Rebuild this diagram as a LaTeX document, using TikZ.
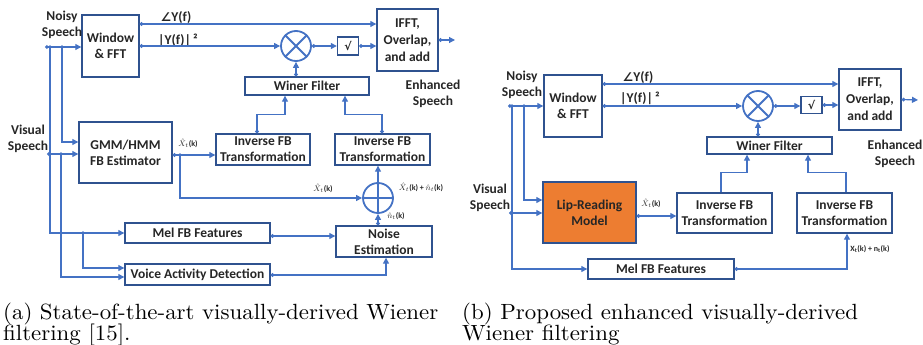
\documentclass[tikz,border=0pt]{standalone}
\usepackage{fontspec}
\usepackage{graphicx}
\setsansfont{Carlito}
\newfontfamily\djv{DejaVu Sans}
\usetikzlibrary{arrows.meta,calc}
\definecolor{lnc}{HTML}{4472C4}
\definecolor{bdc}{HTML}{2F528F}
\definecolor{txc}{HTML}{262626}
\definecolor{orng}{HTML}{ED7D31}
\newcommand{\angsym}{{\djv\bfseries\fontsize{12}{14}\selectfont ∠}}
\newcommand{\capscale}[1]{\scalebox{2.29}[2.2]{#1}}
\begin{document}
\begin{tikzpicture}[x=1pt,y=-1pt,
  box/.style={draw=bdc, line width=1.4pt, fill=white, inner sep=0pt, align=center, text=txc,
    font=\sffamily\bfseries\fontsize{13.5}{16}\selectfont},
  lbl/.style={text=txc, align=center, inner sep=0pt, font=\sffamily\bfseries\fontsize{13.5}{16}\selectfont},
  sml/.style={text=txc, inner sep=0pt, font=\sffamily\bfseries\fontsize{8}{9}\selectfont},
  captxt/.style={text=black, inner sep=0pt, anchor=base west, font=\rmfamily\fontsize{10}{12}\selectfont},
  ring/.style={circle, draw=lnc, line width=1.8pt, fill=white, minimum size=30pt, inner sep=0pt},
  arr/.style={draw=lnc, line width=1.2pt, -{Triangle[length=6pt,width=6pt]}},
  darr/.style={draw=lnc, line width=1.2pt, {Circle[length=3.6pt]}-{Triangle[length=6pt,width=6pt]}},
  jdot/.style={fill=lnc}
]
\useasboundingbox (0,0) rectangle (923,345);

% ================= LEFT DIAGRAM =================
\node[box, minimum width=57pt, minimum height=62pt] (winL) at (110.5,46) {Window\\\& FFT};
\node[box, minimum width=61pt, minimum height=62pt, font=\sffamily\bfseries\fontsize{13.5}{17}\selectfont] (ifftL) at (407.5,40) {IFFT,\\Overlap,\\and add};
\node[ring] (mulL) at (296,46) {};
\draw[lnc, line width=1.8pt] (mulL.north west) -- (mulL.south east) (mulL.north east) -- (mulL.south west);
\node[box, minimum width=21pt, minimum height=18pt, font=\djv\bfseries\fontsize{11}{12}\selectfont] (sqrtL) at (348,46) {√};
\node[box, minimum width=124pt, minimum height=18pt] (winerL) at (307,86) {Winer Filter};
\node[box, minimum width=94pt, minimum height=31pt] (invL1) at (263,149.5) {Inverse FB\\Transformation};
\node[box, minimum width=95pt, minimum height=31pt] (invL2) at (382.5,149.5) {Inverse FB\\Transformation};
\node[box, minimum width=93pt, minimum height=61pt] (gmm) at (125.5,152.5) {GMM/HMM\\FB Estimator};
\node[box, minimum width=145pt, minimum height=20pt] (melL) at (197.5,233) {Mel FB Features};
\node[box, minimum width=145pt, minimum height=21pt] (vad) at (197.5,274.5) {Voice Activity Detection};
\node[box, minimum width=96pt, minimum height=31pt] (noise) at (384,241.5) {Noise\\Estimation};
\node[ring] (plus) at (378,198) {};
\draw[lnc, line width=1.8pt] (plus.north) -- (plus.south) (plus.west) -- (plus.east);

\node[lbl] (noisyL) at (62,25) {Noisy\\Speech};
\node[lbl] (visL) at (28,138.5) {Visual\\Speech};
\node[lbl] (enhL) at (433,94) {Enhanced\\Speech};
\node[lbl] (angL) at (176,18) {\angsym Y(f)};
\node[lbl] (magL) at (178,40) {|Y(f)|\,²};
\node[sml] (xg) at (188,143) {$\hat{X}_t$(k)};
\node[sml] (xp) at (323,188) {$\hat{X}_t$(k)};
\node[sml] (xn) at (421,187) {$\hat{X}_t$(k) + $\hat{n}_t$(k)};
\node[sml] (nn) at (396,216) {$\hat{n}_t$(k)};

\coordinate (inNL) at (45,47);
\coordinate (inVL) at (47,154);
\coordinate (jA) at (50,47);
\coordinate (jB) at (62,47);
\coordinate (jC) at (61,154);
\coordinate (jD) at (83,233);
\coordinate (jE) at (180,155);
\coordinate (outL) at (455,40);

\draw[darr] (inNL) -- (winL.west |- inNL);
\draw[arr] (jB) |- (gmm.west |- 0,142);
\draw[arr] (jA) |- (melL.west);
\draw[darr] (inVL) -- (gmm.west |- inVL);
\draw[arr] (jC) |- (vad.west |- 0,277);
\draw[arr] (jD) |- (vad.west |- 0,268);
\foreach \j in {jA,jB,jC,jD,jE} \fill[jdot] (\j) circle (1.8pt);
\draw[darr] (winL.east |- 0,24) -- (ifftL.west |- 0,24);
\draw[darr] (winL.east |- mulL.west) -- (mulL.west);
\draw[darr] (mulL.east) -- (sqrtL.west);
\draw[darr] (sqrtL.east) -- (ifftL.west |- sqrtL.east);
\draw[darr] (ifftL.east) -- (outL);
\draw[darr] (winerL.north -| mulL) -- (mulL.south);
\draw[darr] (invL1.north -| 257,0) -- ++(0,-19) -| (winerL.south -| 285,0);
\draw[darr] (invL2.north -| 382,0) -- ++(0,-19) -| (winerL.south -| 345,0);
\draw[darr] (gmm.east |- 0,155) -- (invL1.west |- 0,155);
\draw[arr] (jE) |- (plus.west);
\draw[arr] (plus.north) -- (invL2.south -| plus.north);
\draw[darr] (noise.north -| plus) -- (plus.south);
\draw[darr] (melL.east |- 0,236) -- (noise.west |- 0,236);
\draw[darr] (vad.east |- 0,275) -| (noise.south -| 386,0);

% ================= RIGHT DIAGRAM =================
\node[box, minimum width=58pt, minimum height=62pt] (winR) at (573,106) {Window\\\& FFT};
\node[box, minimum width=62pt, minimum height=61pt, font=\sffamily\bfseries\fontsize{13.5}{17}\selectfont] (ifftR) at (870,99.5) {IFFT,\\Overlap,\\and add};
\node[ring] (mulR) at (758,106) {};
\draw[lnc, line width=1.8pt] (mulR.north west) -- (mulR.south east) (mulR.north east) -- (mulR.south west);
\node[box, minimum width=21pt, minimum height=17pt, font=\djv\bfseries\fontsize{11}{12}\selectfont] (sqrtR) at (811.5,105) {√};
\node[box, minimum width=125pt, minimum height=17pt] (winerR) at (769.5,145.5) {Winer Filter};
\node[box, fill=orng, minimum width=93pt, minimum height=61pt] (lip) at (589.5,212.5) {Lip-Reading\\Model};
\node[box, minimum width=95pt, minimum height=40pt] (invR1) at (724.5,213) {Inverse FB\\Transformation};
\node[box, minimum width=95pt, minimum height=40pt] (invR2) at (844.5,213) {Inverse FB\\Transformation};
\node[box, minimum width=146pt, minimum height=20pt] (melR) at (661,269) {Mel FB Features};

\node[lbl] (noisyR) at (522,84.5) {Noisy\\Speech};
\node[lbl] (visR) at (490,197.5) {Visual\\Speech};
\node[lbl] (enhR) at (895,154) {Enhanced\\Speech};
\node[lbl] (angR) at (638,78) {\angsym Y(f)};
\node[lbl] (magR) at (640,98) {|Y(f)|\,²};
\node[sml] (xl) at (651,203) {$\hat{X}_t$(k)};
\node[sml] (xm) at (870,249) {X\textsubscript{t}(k) + n\textsubscript{t}(k)};

\coordinate (inNR) at (508,106);
\coordinate (inVR) at (509,213);
\coordinate (jF) at (512,106);
\coordinate (jG) at (524,106);
\coordinate (outR) at (918,100);

\draw[darr] (inNR) -- (winR.west |- inNR);
\draw[arr] (jG) |- (lip.west |- 0,200);
\draw[arr] (jF) |- (melR.west);
\draw[darr] (inVR) -- (lip.west |- inVR);
\foreach \j in {jF,jG} \fill[jdot] (\j) circle (1.8pt);
\draw[darr] (winR.east |- 0,84) -- (ifftR.west |- 0,84);
\draw[darr] (winR.east |- mulR.west) -- (mulR.west);
\draw[darr] (mulR.east) -- (sqrtR.west |- mulR.east);
\draw[darr] (sqrtR.east) -- (ifftR.west |- sqrtR.east);
\draw[darr] (ifftR.east) -- (outR);
\draw[darr] (winerR.north -| mulR) -- (mulR.south);
\draw[arr] (invR1.north -| 721,0) -- ++(0,-20) -| (winerR.south -| 747,0);
\draw[arr] (invR2.north -| 846,0) -- ++(0,-20) -| (winerR.south -| 808,0);
\draw[darr] (lip.east |- 0,216) -- (invR1.west |- 0,216);
\draw[darr] (melR.east) -| (invR2.south -| 847,0);

% ================= CAPTIONS =================
\node[captxt] (capA1) at (3,319) {\capscale{\makebox[190pt][s]{(a) State-of-the-art visually-derived Wiener}}};
\node[captxt] (capA2) at (3,340) {\capscale{filtering [15].}};
\node[captxt] (capB1) at (462,319) {\capscale{(b) Proposed enhanced visually-derived}};
\node[captxt] (capB2) at (462,340) {\capscale{Wiener filtering}};
\end{tikzpicture}
\end{document}
